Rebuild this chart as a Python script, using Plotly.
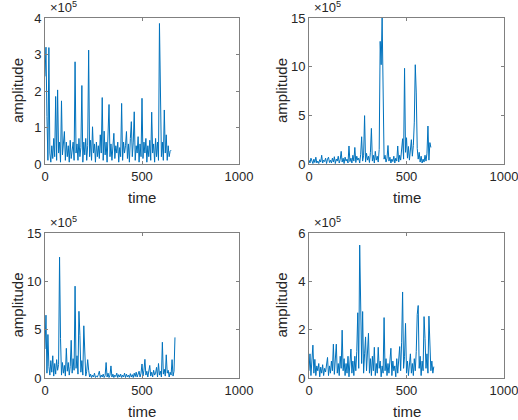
import plotly.graph_objects as go

# values in units of 1e5, sampled every 5 time units
amp1 = [2.4, 3.2, 1.3, 0.1, 3.19, 0.3, 0.05, 0.5, 0.15, 0.7, 0.2, 1.85, 0.1, 2.03, 0.3, 0.6, 0.05, 1.73, 0.25, 0.55,
        0.89, 0.1, 0.6, 0.2, 0.5, 0.05, 0.65, 0.15, 0.4, 0.6, 0.1, 2.8, 0.3, 0.55, 0.1, 0.7, 0.2, 0.45, 2.15, 0.05,
        0.6, 0.25, 0.7, 0.1, 0.5, 3.12, 0.2, 0.65, 0.1, 1.02, 0.3, 0.55, 0.05, 0.6, 0.2, 0.5, 0.15, 0.8, 0.3, 1.82,
        0.1, 0.9, 0.25, 0.6, 0.05, 0.7, 1.63, 0.2, 0.55, 0.1, 0.65, 0.84, 0.15, 0.5, 0.3, 0.6, 0.05, 0.45, 0.2, 1.66,
        0.1, 0.6, 0.3, 0.5, 0.89, 0.15, 0.55, 0.05, 0.7, 1.16, 0.2, 0.6, 1.43, 0.1, 0.5, 0.3, 0.75, 0.05, 0.55, 0.2,
        1.8, 0.15, 0.6, 0.3, 0.7, 0.05, 0.5, 0.2, 0.65, 0.1, 1.42, 0.3, 0.55, 0.05, 0.7, 0.2, 0.6, 0.1, 3.85, 1.3,
        0.2, 0.6, 0.1, 1.48, 0.3, 0.8, 0.1, 0.5, 0.2, 0.35, 0.38]

amp2 = [0.4, 0.1, 0.6, 0.2, 0.05, 0.5, 0.15, 0.7, 0.1, 0.3, 0.05, 0.45, 0.2, 0.9, 0.1, 0.4, 0.25, 0.6, 0.05, 0.5,
        0.7, 0.15, 0.4, 0.1, 0.6, 0.2, 0.75, 0.05, 0.5, 0.3, 0.8, 0.1, 0.45, 1.3, 0.2, 0.6, 0.05, 0.7, 0.3, 0.5,
        0.1, 1.85, 0.25, 0.6, 0.1, 0.9, 0.3, 1.7, 0.15, 0.8, 0.4, 0.6, 0.1, 1.0, 2.8, 0.3, 0.9, 4.97, 0.2, 1.1,
        0.4, 0.8, 0.15, 1.2, 3.66, 0.3, 0.9, 0.1, 1.3, 0.4, 0.8, 0.2, 1.5, 12.6, 10.2, 15.0, 8.2, 0.5, 0.9, 0.2,
        0.6, 1.9, 0.3, 0.7, 0.1, 0.5, 0.25, 0.8, 0.1, 0.6, 0.3, 1.85, 0.2, 0.9, 0.4, 1.4, 2.6, 0.5, 9.83, 1.2,
        2.7, 0.6, 1.8, 0.4, 1.5, 2.5, 0.8, 1.9, 4.3, 10.2, 7.3, 1.6, 0.5, 1.2, 0.2, 0.8, 0.1, 0.5, 0.2, 0.9,
        0.3, 1.1, 3.9, 0.4, 2.2, 1.7]

amp3 = [3.0, 6.5, 0.5, 4.5, 1.2, 0.3, 1.8, 0.6, 2.3, 0.2, 1.5, 0.4, 1.9, 0.8, 1.4, 12.5, 4.1, 0.3, 1.6, 0.5,
        1.3, 0.2, 3.07, 0.7, 1.6, 0.3, 1.2, 3.9, 0.5, 2.0, 0.8, 9.5, 1.0, 2.3, 0.4, 6.9, 4.4, 0.6, 1.8, 0.3,
        5.4, 1.2, 0.2, 0.7, 1.9, 0.8, 0.1, 0.4, 0.05, 0.3, 0.1, 0.5, 0.05, 0.2, 0.1, 0.35, 0.7, 0.05, 0.3, 0.1,
        0.4, 0.05, 0.25, 1.6, 0.1, 0.5, 0.05, 0.3, 1.25, 0.1, 0.4, 0.05, 0.3, 0.15, 0.5, 0.05, 0.35, 0.1, 0.4, 0.05,
        0.3, 0.1, 0.5, 0.05, 0.4, 0.1, 0.3, 0.05, 0.45, 0.1, 0.35, 0.05, 0.5, 0.15, 0.6, 0.1, 0.4, 0.7, 0.1, 0.5,
        1.45, 0.2, 0.8, 1.93, 0.3, 0.7, 0.1, 0.9, 1.3, 0.2, 0.6, 0.1, 0.8, 0.3, 0.5, 1.1, 0.1, 1.5, 0.3, 0.7,
        0.1, 3.7, 0.4, 0.9, 0.2, 2.4, 0.5, 0.8, 0.1, 0.6, 0.3, 1.9, 0.2, 0.7, 4.2]

amp4 = [0.3, 1.0, 0.1, 0.6, 1.36, 0.2, 0.77, 0.1, 0.5, 0.3, 0.6, 0.05, 0.45, 0.2, 0.55, 0.1, 0.4, 0.25, 0.6, 0.85,
        0.1, 0.5, 0.2, 0.7, 0.3, 1.4, 0.15, 0.8, 1.4, 0.2, 0.6, 0.1, 0.9, 0.4, 1.98, 0.3, 0.8, 0.1, 0.6, 0.2,
        0.9, 0.05, 0.5, 1.2, 0.2, 0.7, 0.1, 0.9, 0.3, 1.1, 2.7, 0.4, 5.5, 3.2, 0.6, 2.75, 0.2, 1.0, 1.7, 0.3,
        1.5, 1.85, 0.2, 0.8, 0.1, 0.9, 0.3, 1.27, 0.1, 0.6, 0.2, 1.27, 0.4, 0.7, 0.05, 0.5, 0.2, 2.5, 0.3, 0.8,
        0.1, 0.6, 0.2, 0.9, 1.23, 0.1, 0.7, 0.3, 0.5, 0.05, 0.8, 0.2, 0.6, 1.3, 0.3, 1.48, 3.56, 0.4, 0.9, 2.26,
        0.2, 0.7, 0.1, 0.5, 1.0, 0.2, 0.6, 0.1, 0.8, 0.3, 1.1, 2.63, 3.0, 0.4, 0.9, 0.1, 0.7, 0.3, 2.54, 1.64,
        0.4, 1.0, 0.2, 2.56, 0.8, 0.3, 0.7, 0.2, 0.47]

series = [amp1, amp2, amp3, amp4]
time_step = 5
y_ranges = [[0, 4], [0, 15], [0, 15], [0, 6]]
y_ticks = [[0, 1, 2, 3, 4], [0, 5, 10, 15], [0, 5, 10, 15], [0, 2, 4, 6]]
x_ticks = [0, 500, 1000]

W, H = 518, 420
px_left = [(45, 239), (309, 504), (45, 239), (309, 504)]
px_top = [(18, 164), (18, 164), (233, 378), (233, 378)]

FONT = "Liberation Sans, Arial, sans-serif"
TXT = "#262626"
AXC = "#808080"

fig = go.Figure()
layout = dict(width=W, height=H, margin=dict(l=0, r=0, t=0, b=0, autoexpand=False),
              template="none",
              paper_bgcolor="white", plot_bgcolor="white", showlegend=False,
              font=dict(family=FONT, color=TXT, size=13))
annotations = []
for k in range(4):
    xa = "xaxis" if k == 0 else f"xaxis{k+1}"
    ya = "yaxis" if k == 0 else f"yaxis{k+1}"
    xr = "x" if k == 0 else f"x{k+1}"
    yr = "y" if k == 0 else f"y{k+1}"
    vals = series[k]
    t = [i * time_step for i in range(len(vals))]
    fig.add_trace(go.Scatter(x=t, y=vals, mode="lines", xaxis=xr, yaxis=yr,
                             line=dict(color="#0072BD", width=1.0), hoverinfo="skip"))
    x0, x1 = px_left[k]
    y0, y1 = px_top[k]
    common = dict(showgrid=False, zeroline=False, showline=True, linecolor=AXC, linewidth=1,
                  mirror="allticks", ticks="inside", ticklen=3, tickcolor=AXC, tickwidth=1,
                  automargin=False, ticklabeloverflow="allow",
                  tickfont=dict(family=FONT, size=13, color=TXT))
    layout[xa] = dict(common, domain=[x0 / W, x1 / W], range=[0, 1000], tickvals=x_ticks,
                      anchor=yr)
    layout[ya] = dict(common, domain=[1 - y1 / H, 1 - y0 / H], range=y_ranges[k],
                      tickvals=y_ticks[k], anchor=xr)
    # axis labels
    annotations.append(dict(text="time", xref="paper", yref="paper", x=(x0 + x1) / 2 / W,
                            y=1 - (y1 + 33.5) / H, showarrow=False, xanchor="center", yanchor="middle",
                            font=dict(size=15, color=TXT, family=FONT)))
    annotations.append(dict(text="amplitude", xref="paper", yref="paper", x=(x0 - 28) / W,
                            y=1 - (y0 + y1) / 2 / H, showarrow=False, textangle=-90,
                            xanchor="center", yanchor="middle",
                            font=dict(size=15, color=TXT, family=FONT)))
    annotations.append(dict(text="×10<sup>5</sup>", xref="paper", yref="paper", x=(x0 + 3) / W,
                            y=1 - (y0 - 1) / H, showarrow=False, xanchor="left", yanchor="bottom",
                            font=dict(size=13, color=TXT, family=FONT)))
layout["annotations"] = annotations
fig.update_layout(**layout)
fig.write_html("out.html", config={"displayModeBar": False, "staticPlot": True},
               post_script="document.body.style.margin='0px';document.body.style.overflow='hidden';")
